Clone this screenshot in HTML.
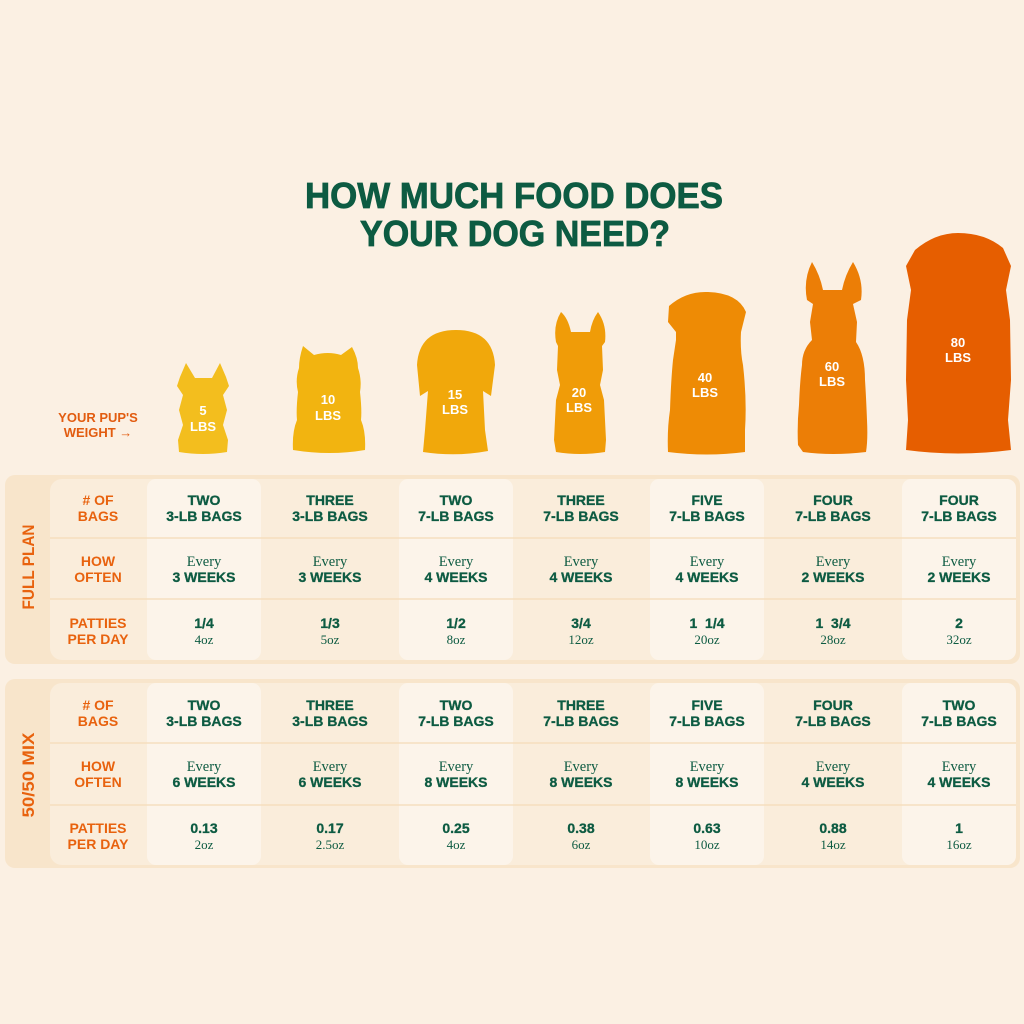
<!DOCTYPE html>
<html>
<head>
<meta charset="utf-8">
<style>
html,body{margin:0;padding:0;background:#FBF0E3;}
svg{display:block;}
.t{font-family:"Liberation Sans",sans-serif;font-weight:bold;}
.g{fill:#0D5B42;}
.o{fill:#E8620E;}
.s{font-family:"Liberation Serif",serif;fill:#0D5B42;}
.w{fill:#fff;font-family:"Liberation Sans",sans-serif;font-weight:bold;font-size:13px;}
</style>
</head>
<body>
<svg width="1024" height="1024" viewBox="0 0 1024 1024" xmlns="http://www.w3.org/2000/svg">
<rect width="1024" height="1024" fill="#FBF0E3"/>

<!-- Title -->
<text class="t g" x="514" y="208" font-size="36" text-anchor="middle" textLength="418" lengthAdjust="spacingAndGlyphs" stroke="#0D5B42" stroke-width="0.8">HOW MUCH FOOD DOES</text>
<text class="t g" x="515" y="246" font-size="36" text-anchor="middle" textLength="310" lengthAdjust="spacingAndGlyphs" stroke="#0D5B42" stroke-width="0.8">YOUR DOG NEED?</text>

<!-- Pup weight label -->
<text class="t" fill="#E25C10" x="98" y="422" font-size="13" text-anchor="middle">YOUR PUP'S</text>
<text class="t" fill="#E25C10" x="98" y="437" font-size="13" text-anchor="middle">WEIGHT →</text>

<!-- Dogs -->
<path fill="#F3BE1E" d="M186 363 L195 378 L212 378 L220 363 L226 377 L229 386 L223 395 L227 410 L223 425 L228 440 L227 452 Q203 456 179 452 L178 440 L183 425 L179 410 L183 395 L177 386 L180 377 Z"/>
<text class="w" x="203" y="415" text-anchor="middle">5</text>
<text class="w" x="203" y="431" text-anchor="middle">LBS</text>

<path fill="#F2B410" d="M303 346 L314 355 Q328 351 341 355 L352 347 Q358 358 358 368 Q362 380 360 392 Q362 410 361 420 Q366 432 365 450 Q330 456 293 450 Q292 432 297 420 Q296 410 298 392 Q295 380 299 368 Q299 358 303 346 Z"/>
<text class="w" x="328" y="404" text-anchor="middle">10</text>
<text class="w" x="328" y="420" text-anchor="middle">LBS</text>

<path fill="#F1A80B" d="M417 365 Q419 330 456 330 Q493 330 495 365 L491 396 L483 391 L485 430 L488 451 Q456 457 423 452 L425 430 L428 391 L420 396 Z"/>
<text class="w" x="455" y="399" text-anchor="middle">15</text>
<text class="w" x="455" y="414" text-anchor="middle">LBS</text>

<path fill="#F09C08" d="M561 312 Q553 325 556 342 L558 346 L557 370 L560 385 L556 400 L554 440 L556 452 Q580 456 605 452 L606 440 L604 400 L600 385 L603 370 L602 346 L605 342 Q607 325 598 312 Q592 320 590 332 L571 332 Q568 318 561 312 Z"/>
<text class="w" x="579" y="397" text-anchor="middle">20</text>
<text class="w" x="579" y="412" text-anchor="middle">LBS</text>

<path fill="#EE8B05" d="M669 306 Q686 291 708 292 Q738 293 746 312 L741 332 Q740 350 743 365 Q747 400 745 430 L745 452 Q707 457 668 452 Q667 430 670 410 Q671 380 673 360 L676 340 L676 332 L668 322 Z"/>
<text class="w" x="705" y="382" text-anchor="middle">40</text>
<text class="w" x="705" y="397" text-anchor="middle">LBS</text>

<path fill="#EC7E06" d="M812 262 Q803 280 807 300 L813 304 L810 322 L812 340 Q802 350 802 365 Q800 380 799 405 Q797 425 798 445 L803 452 Q832 456 866 452 Q868 440 867 420 Q866 395 865 380 Q865 355 856 342 L857 322 L853 304 L861 300 Q864 280 853 262 Q845 275 842 290 L823 290 Q820 275 812 262 Z"/>
<text class="w" x="832" y="371" text-anchor="middle">60</text>
<text class="w" x="832" y="386" text-anchor="middle">LBS</text>

<path fill="#E65E00" d="M915 250 Q935 233 958 233 Q985 233 1003 248 L1011 266 L1006 290 L1010 320 L1011 380 L1008 420 L1011 450 Q958 457 906 450 L908 420 L906 380 L907 320 L911 290 L906 266 Z"/>
<text class="w" x="958" y="347" text-anchor="middle">80</text>
<text class="w" x="958" y="362" text-anchor="middle">LBS</text>

<!-- ===== Panel 1 ===== -->
<rect x="5" y="475" width="1015" height="189" rx="10" fill="#F8E5CB"/>
<rect x="50" y="479" width="966" height="181" rx="12" fill="#FAEDDB"/>
<rect x="147" y="479" width="114" height="181" rx="9" fill="#FCF4EA"/>
<rect x="399" y="479" width="114" height="181" rx="9" fill="#FCF4EA"/>
<rect x="650" y="479" width="114" height="181" rx="9" fill="#FCF4EA"/>
<rect x="902" y="479" width="114" height="181" rx="9" fill="#FCF4EA"/>
<rect x="50" y="537" width="966" height="2" fill="#F5DDBC" opacity="0.7"/>
<rect x="50" y="598" width="966" height="2" fill="#F5DDBC" opacity="0.7"/>
<text class="t o" x="0" y="0" font-size="17" text-anchor="middle" textLength="85" lengthAdjust="spacingAndGlyphs" transform="translate(34 567) rotate(-90)">FULL PLAN</text>

<g class="t o" font-size="14" text-anchor="middle">
<text x="98" y="505"># OF</text><text x="98" y="521">BAGS</text>
<text x="98" y="566">HOW</text><text x="98" y="582">OFTEN</text>
<text x="98" y="628">PATTIES</text><text x="98" y="644">PER DAY</text>
</g>

<g class="t g" font-size="14" text-anchor="middle" stroke="#0D5B42" stroke-width="0.3">
<text x="204" y="505">TWO</text><text x="204" y="521">3-LB BAGS</text>
<text x="330" y="505">THREE</text><text x="330" y="521">3-LB BAGS</text>
<text x="456" y="505">TWO</text><text x="456" y="521">7-LB BAGS</text>
<text x="581" y="505">THREE</text><text x="581" y="521">7-LB BAGS</text>
<text x="707" y="505">FIVE</text><text x="707" y="521">7-LB BAGS</text>
<text x="833" y="505">FOUR</text><text x="833" y="521">7-LB BAGS</text>
<text x="959" y="505">FOUR</text><text x="959" y="521">7-LB BAGS</text>

<text x="204" y="582">3 WEEKS</text>
<text x="330" y="582">3 WEEKS</text>
<text x="456" y="582">4 WEEKS</text>
<text x="581" y="582">4 WEEKS</text>
<text x="707" y="582">4 WEEKS</text>
<text x="833" y="582">2 WEEKS</text>
<text x="959" y="582">2 WEEKS</text>

<text x="204" y="628">1/4</text>
<text x="330" y="628">1/3</text>
<text x="456" y="628">1/2</text>
<text x="581" y="628">3/4</text>
<text x="707" y="628">1&#160;&#160;1/4</text>
<text x="833" y="628">1&#160;&#160;3/4</text>
<text x="959" y="628">2</text>
</g>
<g class="s" font-size="14.5" text-anchor="middle">
<text x="204" y="566">Every</text><text x="330" y="566">Every</text><text x="456" y="566">Every</text><text x="581" y="566">Every</text><text x="707" y="566">Every</text><text x="833" y="566">Every</text><text x="959" y="566">Every</text>
</g>
<g class="s" font-size="13" text-anchor="middle">
<text x="204" y="644">4oz</text><text x="330" y="644">5oz</text><text x="456" y="644">8oz</text><text x="581" y="644">12oz</text><text x="707" y="644">20oz</text><text x="833" y="644">28oz</text><text x="959" y="644">32oz</text>
</g>

<!-- ===== Panel 2 ===== -->
<rect x="5" y="679" width="1015" height="189" rx="10" fill="#F8E5CB"/>
<rect x="50" y="683" width="966" height="182" rx="12" fill="#FAEDDB"/>
<rect x="147" y="683" width="114" height="182" rx="9" fill="#FCF4EA"/>
<rect x="399" y="683" width="114" height="182" rx="9" fill="#FCF4EA"/>
<rect x="650" y="683" width="114" height="182" rx="9" fill="#FCF4EA"/>
<rect x="902" y="683" width="114" height="182" rx="9" fill="#FCF4EA"/>
<rect x="50" y="742" width="966" height="2" fill="#F5DDBC" opacity="0.7"/>
<rect x="50" y="804" width="966" height="2" fill="#F5DDBC" opacity="0.7"/>
<text class="t o" x="0" y="0" font-size="17" text-anchor="middle" textLength="85" lengthAdjust="spacingAndGlyphs" transform="translate(34 775) rotate(-90)">50/50 MIX</text>

<g class="t o" font-size="14" text-anchor="middle">
<text x="98" y="710"># OF</text><text x="98" y="726">BAGS</text>
<text x="98" y="771">HOW</text><text x="98" y="787">OFTEN</text>
<text x="98" y="833">PATTIES</text><text x="98" y="849">PER DAY</text>
</g>

<g class="t g" font-size="14" text-anchor="middle" stroke="#0D5B42" stroke-width="0.3">
<text x="204" y="710">TWO</text><text x="204" y="726">3-LB BAGS</text>
<text x="330" y="710">THREE</text><text x="330" y="726">3-LB BAGS</text>
<text x="456" y="710">TWO</text><text x="456" y="726">7-LB BAGS</text>
<text x="581" y="710">THREE</text><text x="581" y="726">7-LB BAGS</text>
<text x="707" y="710">FIVE</text><text x="707" y="726">7-LB BAGS</text>
<text x="833" y="710">FOUR</text><text x="833" y="726">7-LB BAGS</text>
<text x="959" y="710">TWO</text><text x="959" y="726">7-LB BAGS</text>

<text x="204" y="787">6 WEEKS</text>
<text x="330" y="787">6 WEEKS</text>
<text x="456" y="787">8 WEEKS</text>
<text x="581" y="787">8 WEEKS</text>
<text x="707" y="787">8 WEEKS</text>
<text x="833" y="787">4 WEEKS</text>
<text x="959" y="787">4 WEEKS</text>

<text x="204" y="833">0.13</text>
<text x="330" y="833">0.17</text>
<text x="456" y="833">0.25</text>
<text x="581" y="833">0.38</text>
<text x="707" y="833">0.63</text>
<text x="833" y="833">0.88</text>
<text x="959" y="833">1</text>
</g>
<g class="s" font-size="14.5" text-anchor="middle">
<text x="204" y="771">Every</text><text x="330" y="771">Every</text><text x="456" y="771">Every</text><text x="581" y="771">Every</text><text x="707" y="771">Every</text><text x="833" y="771">Every</text><text x="959" y="771">Every</text>
</g>
<g class="s" font-size="13" text-anchor="middle">
<text x="204" y="849">2oz</text><text x="330" y="849">2.5oz</text><text x="456" y="849">4oz</text><text x="581" y="849">6oz</text><text x="707" y="849">10oz</text><text x="833" y="849">14oz</text><text x="959" y="849">16oz</text>
</g>
</svg>
</body>
</html>
